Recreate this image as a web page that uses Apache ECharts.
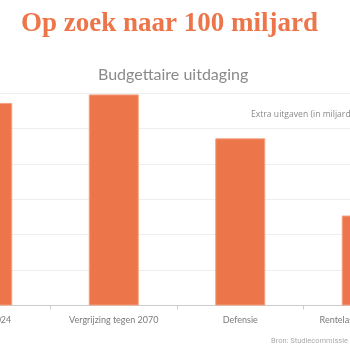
<!DOCTYPE html>
<html>
<head>
<meta charset="utf-8">
<script src="https://cdn.jsdelivr.net/npm/echarts@6/dist/echarts.min.js"></script>
<style>
  html, body { margin: 0; padding: 0; background: #ffffff; overflow: hidden; width: 350px; height: 350px; }
  #wrap { position: relative; width: 350px; height: 350px; overflow: hidden; }
  /* The chart canvas is wider than the window and shifted left, so only the central part shows */
  #chart { position: absolute; left: -76px; top: 0; width: 510px; height: 350px; }
</style>
</head>
<body>
<div id="wrap"><div id="chart"></div></div>
<script>
// Budget categories and extra spending (billion euro)
const categories = ['Tekort 2024', 'Vergrijzing tegen 2070', 'Defensie', 'Rentelasten tegen 2070'];
const extraSpending = [28.6, 29.8, 23.6, 12.7];
const yTicks = { min: 0, max: 30, interval: 5 };

const orange = '#EC7549';
const gray = '#8a8a8a';
const shift = 76; // horizontal offset of the canvas

const chart = echarts.init(document.getElementById('chart'), null, { renderer: 'canvas' });

chart.setOption({
  animation: false,
  backgroundColor: '#ffffff',
  title: [
    {
      text: 'Op zoek naar 100 miljard',
      left: 16 + shift, top: 6,
      textStyle: { fontFamily: 'Liberation Serif', fontWeight: 'bold', fontSize: 27, color: orange }
    },
    {
      text: 'Budgettaire uitdaging',
      left: 93 + shift, top: 62,
      textStyle: { fontFamily: 'Lato', fontWeight: 'normal', fontSize: 16, color: gray }
    },
    {
      text: 'Extra uitgaven (in miljard euro)',
      left: 246 + shift, top: 105,
      textStyle: { fontFamily: 'Open Sans', fontWeight: 'normal', fontSize: 8.6, color: gray }
    },
    {
      text: 'Bron: Studiecommissie voor de Vergrijzing',
      left: 266 + shift, top: 332,
      textStyle: { fontFamily: 'Roboto', fontWeight: 'normal', fontSize: 7.5, color: '#ababab' }
    }
  ],
  grid: { left: 0, top: 93, width: 506, height: 212.5, containLabel: false },
  xAxis: {
    type: 'category',
    data: categories,
    axisLine: { lineStyle: { color: '#cccccc' } },
    axisTick: { show: true, length: 4, lineStyle: { color: '#cccccc' } },
    axisLabel: { fontFamily: 'Lato', fontSize: 9, color: '#7a7a7a', margin: 10, interval: 0 }
  },
  yAxis: {
    type: 'value',
    min: yTicks.min, max: yTicks.max, interval: yTicks.interval,
    axisLabel: { show: false },
    axisLine: { show: false },
    axisTick: { show: false },
    splitLine: { lineStyle: { color: '#eeeeee', width: 1 } }
  },
  series: [{
    type: 'bar',
    data: extraSpending,
    barWidth: 50,
    itemStyle: { color: orange, borderColor: '#F3A07F', borderWidth: 1 }
  }]
});
</script>
</body>
</html>
